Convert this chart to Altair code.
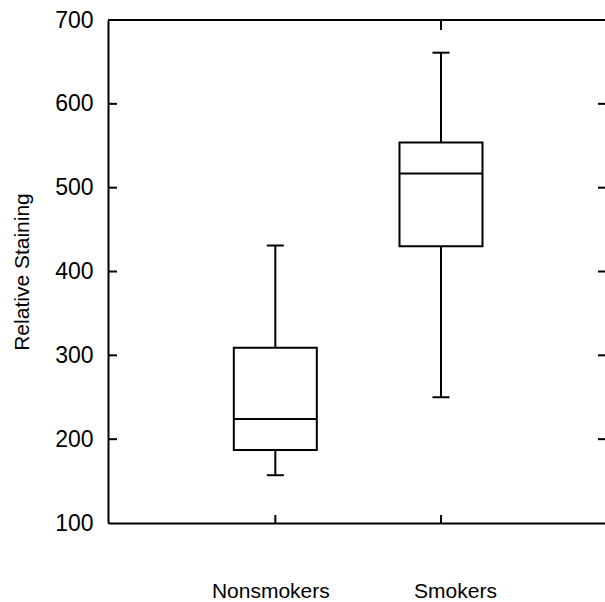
import altair as alt
import pandas as pd

# ---- data ----
groups = ["Nonsmokers", "Smokers"]
whisker_low = [157, 250]
q1 = [187, 430]
median = [224, 517]
q3 = [309, 554]
whisker_high = [431, 661]

y_tick_labels = [100, 200, 300, 400, 500, 600, 700]
inner_ticks = [200, 300, 400, 500, 600]
top_tick_groups = ["Smokers"]

df = pd.DataFrame({
    "group": groups,
    "low": whisker_low,
    "q1": q1,
    "median": median,
    "q3": q3,
    "high": whisker_high,
})
ticks_df = pd.DataFrame({"v": inner_ticks})
top_df = pd.DataFrame({"group": top_tick_groups})
frame_df = pd.DataFrame({"k": [0]})

W, H = 497, 503
FONT = "Liberation Sans"
BOX = 83
CAP = 17
SW = 2

xscale = alt.Scale(type="point", domain=groups, padding=1.0, align=0.505)
xaxis = alt.Axis(title=None, labelAngle=0, labelFontSize=21, labelFont=FONT,
                 labelColor="black", labelPadding=57, ticks=False, tickSize=0,
                 labelOffset={"expr": "datum.value === 'Smokers' ? 14 : -5"},
                 domain=True, domainColor="black", domainWidth=SW, grid=False)
yscale = alt.Scale(domain=[100, 700], nice=False, zero=False)
yaxis = alt.Axis(title="Relative Staining", values=y_tick_labels, format="d",
                 labelFontSize=23, labelFont=FONT, labelColor="black",
                 labelPadding=15, ticks=False, tickSize=0, domain=True,
                 domainColor="black", domainWidth=SW, grid=False,
                 titleFont=FONT, titleFontSize=21, titleFontWeight="normal",
                 titleColor="black", titlePadding=22)


def X():
    return alt.X("group:N", scale=xscale, axis=xaxis)


def Y(field):
    return alt.Y(field, type="quantitative", scale=yscale, axis=yaxis)


base = alt.Chart(df)

box = base.mark_bar(size=BOX, fill="white", stroke="black", strokeWidth=SW, opacity=1).encode(
    x=X(), y=Y("q1"), y2="q3")
lower_whisker = base.mark_rule(color="black", strokeWidth=SW, opacity=1).encode(
    x=X(), y=Y("low"), y2="q1")
upper_whisker = base.mark_rule(color="black", strokeWidth=SW, opacity=1).encode(
    x=X(), y=Y("q3"), y2="high")
med = base.mark_tick(size=BOX, thickness=SW, color="black", opacity=1,
                     orient="horizontal").encode(x=X(), y=Y("median"))
cap_low = base.mark_tick(size=CAP, thickness=SW, color="black", opacity=1,
                         orient="horizontal").encode(x=X(), y=Y("low"))
cap_high = base.mark_tick(size=CAP, thickness=SW, color="black", opacity=1,
                          orient="horizontal").encode(x=X(), y=Y("high"))

left_ticks = alt.Chart(ticks_df).mark_rule(color="black", strokeWidth=SW).encode(
    y=Y("v"), x=alt.value(0), x2=alt.value(9))
right_ticks = alt.Chart(ticks_df).mark_rule(color="black", strokeWidth=SW).encode(
    y=Y("v"), x=alt.value(W - 7), x2=alt.value(W))
bottom_ticks = alt.Chart(df).mark_rule(color="black", strokeWidth=SW).encode(
    x=X(), y=alt.value(H - 8), y2=alt.value(H))
top_ticks = alt.Chart(top_df).mark_rule(color="black", strokeWidth=SW).encode(
    x=X(), y=alt.value(0), y2=alt.value(10))
top_border = alt.Chart(frame_df).mark_rule(color="black", strokeWidth=SW).encode(
    x=alt.value(0), x2=alt.value(W), y=alt.value(0))

chart = alt.layer(
    lower_whisker, upper_whisker, box, med, cap_low, cap_high,
    left_ticks, right_ticks, bottom_ticks, top_ticks, top_border,
).properties(
    width=W, height=H,
    autosize="none",
    padding={"left": 108, "top": 20, "right": 0, "bottom": 79},
    background="white",
).configure_view(stroke=None)

chart.save("out.html", embed_options={"renderer": "svg", "actions": False})
